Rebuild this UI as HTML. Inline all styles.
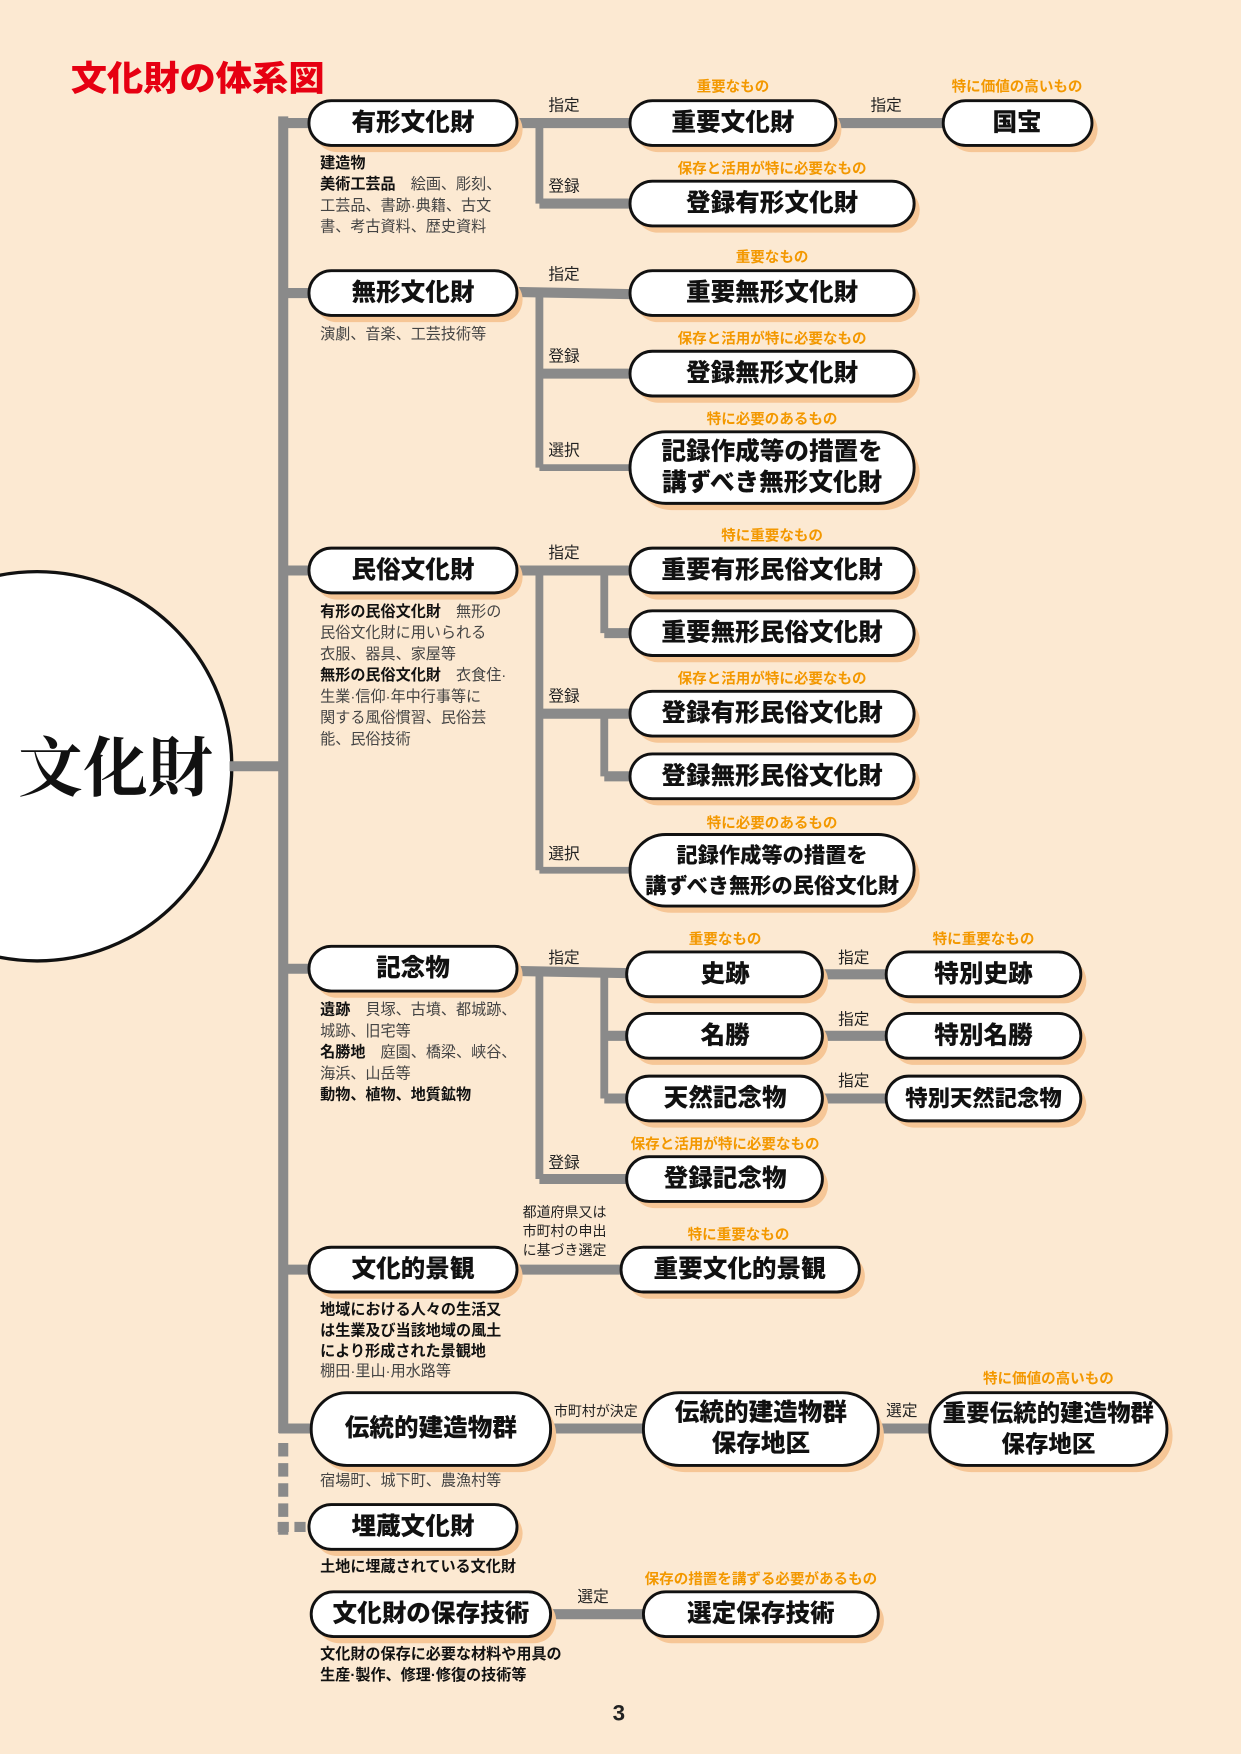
<!DOCTYPE html>
<html><head><meta charset="utf-8"><style>
html,body{margin:0;padding:0;background:#fce9d2}
svg{display:block}
text{font-family:"Liberation Sans","Noto Sans CJK JP",sans-serif}
.p{font-size:22px;font-weight:900;fill:#111;text-anchor:middle;dominant-baseline:central}
.o{font-size:13px;font-weight:700;fill:#f39800;text-anchor:middle}
.l{font-size:14px;fill:#222}
.d{font-size:13.5px;fill:#444}
.b{font-weight:700;fill:#111}
.ln{stroke:#8a8a8a;fill:none}
</style></head><body>
<svg width="1241" height="1754" viewBox="0 0 1109 1568" xmlns="http://www.w3.org/2000/svg">
<rect width="1109" height="1568" fill="#fce9d2"/>
<text x="63" y="81" textLength="227" lengthAdjust="spacingAndGlyphs" style="font-size:31px;font-weight:900;fill:#e60012">文化財の体系図</text>

<circle cx="33" cy="685" r="174" fill="#fff" stroke="#111" stroke-width="3"/>
<text x="103" y="688" style="font-family:'Liberation Serif','Noto Serif CJK SC',serif;font-size:58px;font-weight:700;fill:#111;text-anchor:middle;dominant-baseline:central">文化財</text>

<g class="ln" stroke-width="9">
<line x1="253" y1="104" x2="253" y2="1281"/>
<line x1="253" y1="1290" x2="253" y2="1372" stroke-dasharray="12,6"/>
<line x1="205" y1="685" x2="253" y2="685"/>
<line x1="249" y1="110" x2="280" y2="110"/>
<line x1="253" y1="262" x2="280" y2="262"/>
<line x1="253" y1="510" x2="280" y2="510"/>
<line x1="253" y1="866" x2="280" y2="866"/>
<line x1="253" y1="1135" x2="280" y2="1135"/>
<line x1="249" y1="1277" x2="280" y2="1277"/>
<line x1="248" y1="1365" x2="280" y2="1365" stroke-dasharray="10,5"/>
<line x1="460" y1="110" x2="566" y2="110"/>
<line x1="482" y1="110" x2="482" y2="182" stroke-width="7"/>
<line x1="482" y1="182" x2="566" y2="182"/>
<line x1="745" y1="110" x2="846" y2="110"/>
<line x1="460" y1="261" x2="566" y2="263"/>
<line x1="482" y1="262" x2="482" y2="418" stroke-width="7"/>
<line x1="482" y1="334" x2="566" y2="334"/>
<line x1="482" y1="418" x2="566" y2="418" stroke-width="6"/>
<line x1="460" y1="510" x2="566" y2="510"/>
<line x1="482" y1="510" x2="482" y2="778" stroke-width="7"/>
<line x1="540" y1="510" x2="540" y2="566" stroke-width="7"/>
<line x1="540" y1="566" x2="566" y2="566"/>
<line x1="482" y1="638" x2="566" y2="638"/>
<line x1="540" y1="638" x2="540" y2="694" stroke-width="7"/>
<line x1="540" y1="694" x2="566" y2="694"/>
<line x1="482" y1="778" x2="566" y2="778" stroke-width="6"/>
<line x1="460" y1="868" x2="564" y2="870"/>
<line x1="482" y1="868" x2="482" y2="1054" stroke-width="7"/>
<line x1="540" y1="869" x2="540" y2="982" stroke-width="7"/>
<line x1="540" y1="926" x2="564" y2="926"/>
<line x1="540" y1="982" x2="564" y2="982"/>
<line x1="482" y1="1054" x2="564" y2="1054"/>
<line x1="733" y1="871" x2="795" y2="871"/>
<line x1="733" y1="926" x2="795" y2="926"/>
<line x1="733" y1="982" x2="795" y2="982"/>
<line x1="460" y1="1135" x2="558" y2="1135"/>
<line x1="490" y1="1277" x2="578" y2="1277"/>
<line x1="783" y1="1277" x2="834" y2="1277"/>
<line x1="490" y1="1443" x2="578" y2="1443"/>
</g>

<g fill="#f6c696">
<rect x="281" y="96" width="186" height="40" rx="20"/>
<rect x="568" y="96" width="184" height="40" rx="20"/>
<rect x="848" y="96" width="133" height="40" rx="20"/>
<rect x="568" y="168" width="254" height="40" rx="20"/>
<rect x="281" y="248" width="186" height="40" rx="20"/>
<rect x="568" y="248" width="254" height="40" rx="20"/>
<rect x="568" y="320" width="254" height="40" rx="20"/>
<rect x="568" y="392" width="254" height="64" rx="32"/>
<rect x="281" y="496" width="186" height="40" rx="20"/>
<rect x="568" y="496" width="254" height="40" rx="20"/>
<rect x="568" y="552" width="254" height="40" rx="20"/>
<rect x="568" y="624" width="254" height="40" rx="20"/>
<rect x="568" y="680" width="254" height="40" rx="20"/>
<rect x="568" y="752" width="254" height="64" rx="32"/>
<rect x="281" y="852" width="186" height="40" rx="20"/>
<rect x="565" y="857" width="175" height="40" rx="20"/>
<rect x="565" y="912" width="175" height="40" rx="20"/>
<rect x="565" y="968" width="175" height="40" rx="20"/>
<rect x="565" y="1040" width="175" height="40" rx="20"/>
<rect x="797" y="857" width="174" height="40" rx="20"/>
<rect x="797" y="912" width="174" height="40" rx="20"/>
<rect x="797" y="968" width="174" height="40" rx="20"/>
<rect x="281" y="1121" width="186" height="40" rx="20"/>
<rect x="560" y="1121" width="213" height="40" rx="20"/>
<rect x="283" y="1251" width="214" height="65" rx="32"/>
<rect x="580" y="1251" width="210" height="65" rx="32"/>
<rect x="836" y="1251" width="212" height="65" rx="32"/>
<rect x="281" y="1351" width="186" height="40" rx="20"/>
<rect x="283" y="1429" width="214" height="40" rx="20"/>
<rect x="580" y="1429" width="210" height="40" rx="20"/>
</g>
<g fill="#fff" stroke="#111" stroke-width="2.6">
<rect x="276" y="90" width="186" height="40" rx="20"/>
<rect x="563" y="90" width="184" height="40" rx="20"/>
<rect x="843" y="90" width="133" height="40" rx="20"/>
<rect x="563" y="162" width="254" height="40" rx="20"/>
<rect x="276" y="242" width="186" height="40" rx="20"/>
<rect x="563" y="242" width="254" height="40" rx="20"/>
<rect x="563" y="314" width="254" height="40" rx="20"/>
<rect x="563" y="386" width="254" height="64" rx="32"/>
<rect x="276" y="490" width="186" height="40" rx="20"/>
<rect x="563" y="490" width="254" height="40" rx="20"/>
<rect x="563" y="546" width="254" height="40" rx="20"/>
<rect x="563" y="618" width="254" height="40" rx="20"/>
<rect x="563" y="674" width="254" height="40" rx="20"/>
<rect x="563" y="746" width="254" height="64" rx="32"/>
<rect x="276" y="846" width="186" height="40" rx="20"/>
<rect x="560" y="851" width="175" height="40" rx="20"/>
<rect x="560" y="906" width="175" height="40" rx="20"/>
<rect x="560" y="962" width="175" height="40" rx="20"/>
<rect x="560" y="1034" width="175" height="40" rx="20"/>
<rect x="792" y="851" width="174" height="40" rx="20"/>
<rect x="792" y="906" width="174" height="40" rx="20"/>
<rect x="792" y="962" width="174" height="40" rx="20"/>
<rect x="276" y="1115" width="186" height="40" rx="20"/>
<rect x="555" y="1115" width="213" height="40" rx="20"/>
<rect x="278" y="1245" width="214" height="65" rx="32"/>
<rect x="575" y="1245" width="210" height="65" rx="32"/>
<rect x="831" y="1245" width="212" height="65" rx="32"/>
<rect x="276" y="1345" width="186" height="40" rx="20"/>
<rect x="278" y="1423" width="214" height="40" rx="20"/>
<rect x="575" y="1423" width="210" height="40" rx="20"/>
</g>

<text class="p" x="369" y="110">有形文化財</text>
<text class="p" x="655" y="110">重要文化財</text>
<text class="p" x="909" y="110">国宝</text>
<text class="p" x="690" y="182">登録有形文化財</text>
<text class="p" x="369" y="262">無形文化財</text>
<text class="p" x="690" y="262">重要無形文化財</text>
<text class="p" x="690" y="334">登録無形文化財</text>
<text class="p" x="690" y="404">記録作成等の措置を</text>
<text class="p" x="690" y="432">講ずべき無形文化財</text>
<text class="p" x="369" y="510">民俗文化財</text>
<text class="p" x="690" y="510">重要有形民俗文化財</text>
<text class="p" x="690" y="566">重要無形民俗文化財</text>
<text class="p" x="690" y="638">登録有形民俗文化財</text>
<text class="p" x="690" y="694">登録無形民俗文化財</text>
<text class="p" x="690" y="765" style="font-size:19px">記録作成等の措置を</text>
<text class="p" x="690" y="792" style="font-size:19px">講ずべき無形の民俗文化財</text>
<text class="p" x="369" y="866">記念物</text>
<text class="p" x="648" y="871">史跡</text>
<text class="p" x="648" y="926">名勝</text>
<text class="p" x="648" y="982">天然記念物</text>
<text class="p" x="648" y="1054">登録記念物</text>
<text class="p" x="879" y="871">特別史跡</text>
<text class="p" x="879" y="926">特別名勝</text>
<text class="p" x="879" y="982" style="font-size:20px">特別天然記念物</text>
<text class="p" x="369" y="1135">文化的景観</text>
<text class="p" x="661" y="1135">重要文化的景観</text>
<text class="p" x="385" y="1277">伝統的建造物群</text>
<text class="p" x="680" y="1263">伝統的建造物群</text>
<text class="p" x="680" y="1291">保存地区</text>
<text class="p" x="937" y="1263" style="font-size:21px">重要伝統的建造物群</text>
<text class="p" x="937" y="1291" style="font-size:21px">保存地区</text>
<text class="p" x="369" y="1365">埋蔵文化財</text>
<text class="p" x="385" y="1443">文化財の保存技術</text>
<text class="p" x="680" y="1443">選定保存技術</text>

<text class="o" x="655" y="82">重要なもの</text>
<text class="o" x="909" y="82">特に価値の高いもの</text>
<text class="o" x="690" y="155">保存と活用が特に必要なもの</text>
<text class="o" x="690" y="234">重要なもの</text>
<text class="o" x="690" y="307">保存と活用が特に必要なもの</text>
<text class="o" x="690" y="379">特に必要のあるもの</text>
<text class="o" x="690" y="483">特に重要なもの</text>
<text class="o" x="690" y="611">保存と活用が特に必要なもの</text>
<text class="o" x="690" y="740">特に必要のあるもの</text>
<text class="o" x="648" y="844">重要なもの</text>
<text class="o" x="879" y="844">特に重要なもの</text>
<text class="o" x="648" y="1027">保存と活用が特に必要なもの</text>
<text class="o" x="660" y="1108">特に重要なもの</text>
<text class="o" x="937" y="1237">特に価値の高いもの</text>
<text class="o" x="680" y="1416">保存の措置を講ずる必要があるもの</text>

<g class="l">
<text x="490" y="99">指定</text><text x="490" y="171">登録</text><text x="778" y="99">指定</text>
<text x="490" y="250">指定</text><text x="490" y="323">登録</text><text x="490" y="407">選択</text>
<text x="490" y="499">指定</text><text x="490" y="627">登録</text><text x="490" y="768">選択</text>
<text x="490" y="861">指定</text><text x="490" y="1044">登録</text>
<text x="749" y="861">指定</text><text x="749" y="916">指定</text><text x="749" y="971">指定</text>
<text x="792" y="1266">選定</text><text x="516" y="1432">選定</text>
<text x="495" y="1266" style="font-size:12.5px">市町村が決定</text>
<text x="467" y="1088" style="font-size:12.5px">都道府県又は</text>
<text x="467" y="1105" style="font-size:12.5px">市町村の申出</text>
<text x="467" y="1122" style="font-size:12.5px">に基づき選定</text>
</g>

<g class="d">
<text x="286" y="150" class="b">建造物</text>
<text x="286" y="169"><tspan class="b">美術工芸品</tspan>　絵画、彫刻、</text>
<text x="286" y="188">工芸品、書跡·典籍、古文</text>
<text x="286" y="207">書、考古資料、歴史資料</text>
<text x="286" y="303">演劇、音楽、工芸技術等</text>
<text x="286" y="551"><tspan class="b">有形の民俗文化財</tspan>　無形の</text>
<text x="286" y="570">民俗文化財に用いられる</text>
<text x="286" y="589">衣服、器具、家屋等</text>
<text x="286" y="608"><tspan class="b">無形の民俗文化財</tspan>　衣食住·</text>
<text x="286" y="627">生業·信仰·年中行事等に</text>
<text x="286" y="646">関する風俗慣習、民俗芸</text>
<text x="286" y="665">能、民俗技術</text>
<text x="286" y="907"><tspan class="b">遺跡</tspan>　貝塚、古墳、都城跡、</text>
<text x="286" y="926">城跡、旧宅等</text>
<text x="286" y="945"><tspan class="b">名勝地</tspan>　庭園、橋梁、峡谷、</text>
<text x="286" y="964">海浜、山岳等</text>
<text x="286" y="983" class="b">動物、植物、地質鉱物</text>
<text x="286" y="1175" class="b">地域における人々の生活又</text>
<text x="286" y="1194" class="b">は生業及び当該地域の風土</text>
<text x="286" y="1212" class="b">により形成された景観地</text>
<text x="286" y="1230">棚田·里山·用水路等</text>
<text x="286" y="1328">宿場町、城下町、農漁村等</text>
<text x="286" y="1405" class="b">土地に埋蔵されている文化財</text>
<text x="286" y="1483" class="b">文化財の保存に必要な材料や用具の</text>
<text x="286" y="1502" class="b">生産·製作、修理·修復の技術等</text>
</g>
<text x="553" y="1538" style="font-size:20px;font-weight:900;fill:#222;text-anchor:middle">3</text>
</svg>
</body></html>
